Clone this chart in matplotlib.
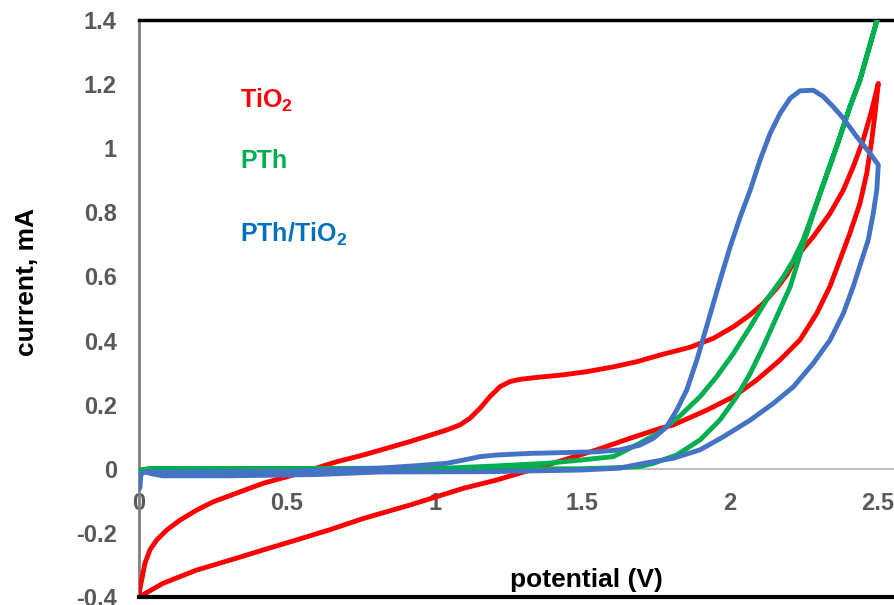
import numpy as np
import matplotlib
matplotlib.use("Agg")
import matplotlib.pyplot as plt

plt.rcParams['font.family'] = ['Liberation Sans', 'DejaVu Sans']
plt.rcParams['font.weight'] = 'bold'
plt.rcParams['mathtext.fontset'] = 'custom'
plt.rcParams['mathtext.rm'] = 'Liberation Sans:bold'
plt.rcParams['mathtext.bf'] = 'Liberation Sans:bold'

# TiO2 loop (upper sweep with bump, then back along the lower branch)
tio2_v = [0, 0.003, 0.009, 0.020, 0.037, 0.060, 0.094, 0.139, 0.195, 0.251, 0.330,
          0.421, 0.50, 0.578, 0.669, 0.759, 0.838, 0.917, 1.041, 1.086, 1.120,
          1.154, 1.187, 1.221, 1.255, 1.289, 1.345, 1.435, 1.515, 1.605, 1.684,
          1.763, 1.864, 1.943, 2.011, 2.067, 2.112, 2.157, 2.191, 2.225, 2.281,
          2.338, 2.383, 2.416, 2.450, 2.479, 2.501,
          2.490, 2.479, 2.462, 2.439, 2.405, 2.371, 2.337, 2.293, 2.236, 2.168,
          2.090, 2.011, 1.921, 1.808, 1.763, 1.661, 1.548, 1.435, 1.323, 1.210,
          1.097, 0.917, 0.759, 0.646, 0.533, 0.421, 0.308, 0.195, 0.082, 0]
tio2_i = [-0.4, -0.375, -0.347, -0.295, -0.253, -0.222, -0.191, -0.160, -0.129,
          -0.103, -0.076, -0.045, -0.025, -0.004, 0.022, 0.043, 0.064, 0.085,
          0.121, 0.137, 0.158, 0.189, 0.225, 0.256, 0.272, 0.279, 0.285, 0.293,
          0.303, 0.318, 0.334, 0.355, 0.379, 0.407, 0.443, 0.480, 0.516, 0.563,
          0.604, 0.662, 0.724, 0.797, 0.870, 0.942, 1.026, 1.119, 1.202,
          1.109, 1.026, 0.922, 0.828, 0.735, 0.651, 0.568, 0.485, 0.402, 0.339,
          0.277, 0.225, 0.183, 0.137, 0.126, 0.095, 0.059, 0.027, -0.004, -0.035,
          -0.061, -0.113, -0.155, -0.19, -0.222, -0.253, -0.285, -0.316, -0.357,
          -0.4]

# PTh loop
pth_v = [0, 0.01, 0.05, 0.5, 1.0, 1.49, 1.605, 1.695, 1.740, 1.819, 1.898, 1.965,
         2.022, 2.068, 2.112, 2.157, 2.203, 2.247, 2.304, 2.360, 2.405, 2.439,
         2.5,
         2.439, 2.405, 2.360, 2.304, 2.247, 2.214, 2.180, 2.123, 2.068, 2.011,
         1.954, 1.898, 1.830, 1.763, 1.695, 1.605, 1.492, 1.379, 1.21, 1.041,
         0.5, 0.03]
pth_i = [-0.015, -0.002, 0.0, 0.0, 0.0, 0.0, 0.003, 0.007, 0.017, 0.043, 0.090,
         0.152, 0.225, 0.298, 0.381, 0.474, 0.568, 0.700, 0.859, 1.005, 1.129,
         1.213, 1.41,
         1.213, 1.129, 1.005, 0.859, 0.714, 0.651, 0.599, 0.527, 0.443, 0.360,
         0.287, 0.225, 0.165, 0.115, 0.080, 0.038, 0.027, 0.017, 0.009, 0.002,
         0.001, 0.0]

# PTh/TiO2 loop
comp_v = [0.003, 0.006, 0.02, 0.04, 0.08, 0.3, 0.6, 0.815, 1.187, 1.492, 1.627,
          1.695, 1.808, 1.898, 1.977, 2.068, 2.146, 2.214, 2.281, 2.338, 2.383,
          2.416, 2.445, 2.467, 2.484, 2.496, 2.501,
          2.473, 2.428, 2.383, 2.349, 2.315, 2.281, 2.236, 2.203, 2.169, 2.135,
          2.101, 2.068, 2.034, 2.000, 1.966, 1.920, 1.887, 1.853, 1.819, 1.785,
          1.740, 1.695, 1.627, 1.548, 1.323, 1.21, 1.154, 1.097, 1.041, 0.928,
          0.815, 0.5, 0.1, 0.02]
comp_i = [-0.06, -0.02, -0.008, -0.015, -0.022, -0.022, -0.018, -0.01, -0.009,
          -0.004, 0.002, 0.015, 0.033, 0.059, 0.100, 0.152, 0.204, 0.256, 0.329,
          0.402, 0.485, 0.568, 0.651, 0.714, 0.797, 0.870, 0.948,
          0.984, 1.036, 1.093, 1.129, 1.161, 1.181, 1.179, 1.156, 1.109, 1.046,
          0.963, 0.870, 0.786, 0.693, 0.589, 0.443, 0.339, 0.246, 0.183, 0.131,
          0.095, 0.074, 0.059, 0.053, 0.048, 0.043, 0.038, 0.027, 0.017, 0.009,
          0.002, -0.008, -0.01, -0.01]

x_ticks = [0, 0.5, 1, 1.5, 2, 2.5]
x_labels = ['0', '0.5', '1', '1.5', '2', '2.5']
y_ticks = [-0.4, -0.2, 0, 0.2, 0.4, 0.6, 0.8, 1, 1.2, 1.4]
y_labels = ['-0.4', '-0.2', '0', '0.2', '0.4', '0.6', '0.8', '1', '1.2', '1.4']

red = '#FF0000'
green = '#00B050'
blue = '#4472C4'
blue_txt = '#0070C0'
grey = '#595959'

fig = plt.figure(figsize=(8.95, 6.05), dpi=100)
ax = fig.add_axes([139 / 895, 8 / 605, 756 / 895, 577 / 605])

kw = dict(lw=3.5, solid_joinstyle='round', solid_capstyle='round', zorder=3)
ax.plot(tio2_v, tio2_i, color=red, **kw)
ax.plot(pth_v, pth_i, color=green, **kw)
ax.plot(comp_v, comp_i, color=blue, **kw)

ax.set_xlim(0, 756 / 295.6)
ax.set_ylim(-0.4, 1.4)

# x axis sits on the zero line
ax.spines['bottom'].set_position(('data', 0))
ax.spines['bottom'].set_color('#BFBFBF')
ax.spines['bottom'].set_linewidth(1.5)
ax.spines['bottom'].set_zorder(1)
ax.spines['top'].set_color('black')
ax.spines['top'].set_linewidth(2.5)
ax.spines['left'].set_color('#808080')
ax.spines['left'].set_linewidth(2)
ax.spines['right'].set_visible(False)
ax.axhline(-0.4, color='black', lw=3, clip_on=False, zorder=4)

ax.set_xticks(x_ticks)
ax.set_xticklabels(x_labels)
ax.set_yticks(y_ticks)
ax.set_yticklabels(y_labels)
ax.tick_params(axis='both', length=0, labelsize=17, labelcolor=grey)
ax.tick_params(axis='x', pad=17)
ax.tick_params(axis='y', pad=16)
for lab in ax.get_xticklabels() + ax.get_yticklabels():
    lab.set_fontweight('bold')

fig.text(27 / 895, 1 - 282 / 605, 'current, mA', rotation=90, ha='center',
         va='center', fontsize=19, fontweight='bold', color='black')
fig.text(586 / 895, 1 - 580 / 605, 'potential (V)', ha='center', va='center',
         fontsize=19, fontweight='bold', color='black')

fig.text(240 / 895, 1 - 108 / 605, r'TiO$_{2}$', color=red, fontsize=18,
         fontweight='bold', va='baseline')
fig.text(240 / 895, 1 - 168 / 605, 'PTh', color=green, fontsize=18,
         fontweight='bold', va='baseline')
fig.text(240 / 895, 1 - 242 / 605, r'PTh/TiO$_{2}$', color=blue_txt, fontsize=18,
         fontweight='bold', va='baseline')

fig.savefig('out.png', dpi=100)
